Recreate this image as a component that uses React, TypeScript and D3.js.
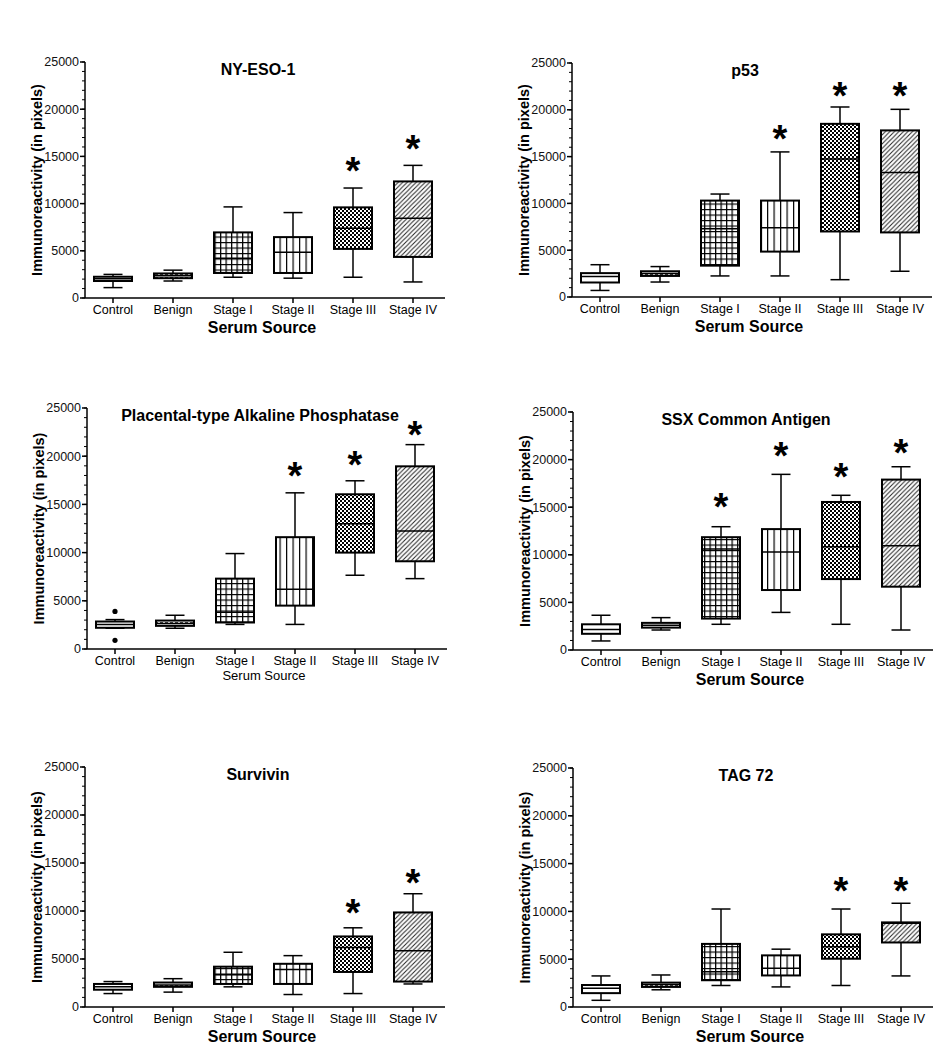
import React from "react";
import * as d3 from "d3";

const CATEGORIES = ["Control", "Benign", "Stage I", "Stage II", "Stage III", "Stage IV"];
const Y_TICKS = [0, 5000, 10000, 15000, 20000, 25000];
const Y_LABEL = "Immunoreactivity (in pixels)";
const X_LABEL = "Serum Source";

type Box = [number, number, number, number, number]; // min, q1, median, q3, max

const NY_ESO_1: Box[] = [
  [1100, 1800, 2050, 2250, 2500],
  [1800, 2100, 2350, 2600, 2950],
  [2200, 2650, 4200, 6950, 9650],
  [2100, 2650, 4850, 6450, 9050],
  [2200, 5200, 7400, 9600, 11650],
  [1700, 4350, 8450, 12350, 14050],
];
const NY_ESO_1_STARS = [null, null, null, null, 14100, 16400];

const P53: Box[] = [
  [700, 1550, 2200, 2550, 3450],
  [1600, 2250, 2500, 2750, 3250],
  [2250, 3350, 7300, 10300, 11000],
  [2250, 4850, 7400, 10300, 15500],
  [1850, 7000, 14750, 18500, 20300],
  [2750, 6900, 13300, 17800, 20050],
];
const P53_STARS = [null, null, null, 17500, 22150, 22150];

const PLAP: Box[] = [
  [2150, 2200, 2550, 2850, 3050],
  [2150, 2400, 2650, 2950, 3500],
  [2550, 2750, 3800, 7300, 9900],
  [2550, 4500, 6200, 11600, 16200],
  [7650, 10000, 13000, 16050, 17450],
  [7300, 9100, 12250, 18950, 21200],
];
const PLAP_STARS = [null, null, null, 18550, 19750, 22850];
const PLAP_OUTLIERS: [number, number][] = [[0, 3900], [0, 900]];

const SSX: Box[] = [
  [950, 1700, 2150, 2700, 3650],
  [2100, 2350, 2600, 2850, 3400],
  [2700, 3300, 10600, 11850, 12950],
  [3950, 6300, 10300, 12700, 18450],
  [2700, 7450, 10850, 15550, 16250],
  [2100, 6650, 10950, 17900, 19250],
];
const SSX_STARS = [null, null, 15600, 21000, 18800, 21350];

const SURVIVIN: Box[] = [
  [1400, 1800, 2100, 2400, 2650],
  [1550, 2100, 2300, 2550, 2950],
  [2100, 2400, 3350, 4200, 5700],
  [1300, 2400, 3900, 4500, 5350],
  [1400, 3650, 6200, 7350, 8250],
  [2400, 2650, 5850, 9850, 11800],
];
const SURVIVIN_STARS = [null, null, null, null, 10450, 13500];

const TAG72: Box[] = [
  [700, 1450, 1950, 2300, 3250],
  [1800, 2100, 2350, 2550, 3350],
  [2250, 2800, 3700, 6600, 10250],
  [2100, 3300, 4050, 5400, 6050],
  [2250, 5050, 6300, 7600, 10250],
  [3250, 6750, 8750, 8850, 10850],
];
const TAG72_STARS = [null, null, null, null, 12750, 12750];

const PANELS = [
  { title: "NY-ESO-1", boxes: NY_ESO_1, stars: NY_ESO_1_STARS, outliers: [] as [number, number][], boldX: true },
  { title: "p53", boxes: P53, stars: P53_STARS, outliers: [] as [number, number][], boldX: true },
  { title: "Placental-type Alkaline Phosphatase", boxes: PLAP, stars: PLAP_STARS, outliers: PLAP_OUTLIERS, boldX: false },
  { title: "SSX Common Antigen", boxes: SSX, stars: SSX_STARS, outliers: [] as [number, number][], boldX: true },
  { title: "Survivin", boxes: SURVIVIN, stars: SURVIVIN_STARS, outliers: [] as [number, number][], boldX: true },
  { title: "TAG 72", boxes: TAG72, stars: TAG72_STARS, outliers: [] as [number, number][], boldX: true },
];

const LAYOUT = [
  { ax: 85, y0: 298, yTop: 62 },
  { ax: 572, y0: 297, yTop: 63 },
  { ax: 87, y0: 649, yTop: 408 },
  { ax: 573, y0: 650, yTop: 412 },
  { ax: 85, y0: 1007, yTop: 767 },
  { ax: 573, y0: 1007, yTop: 768 },
];

const FILLS = ["#fff", "url(#pBenign)", "url(#pGrid)", "url(#pVert)", "url(#pChecker)", "url(#pDiag)"];
const FONT = "'Liberation Sans', Arial, Helvetica, sans-serif";

function Panel({ p, l }: { p: (typeof PANELS)[number]; l: (typeof LAYOUT)[number] }) {
  const width = 360;
  const x = d3.scaleBand().domain(CATEGORIES).range([l.ax, l.ax + width]);
  const y = d3.scaleLinear().domain([0, 25000]).range([l.y0, l.yTop]);
  const bw = 38;
  const cap = 19;
  const cx = (c: string) => (x(c) as number) + x.bandwidth() / 2 - 2;
  const minor = y.ticks(25);
  const midY = (l.y0 + l.yTop) / 2;
  return (
    <g>
      <text x={l.ax + 173} y={l.yTop + 13} textAnchor="middle" fontFamily={FONT} fontWeight="bold" fontSize={16}>
        {p.title}
      </text>
      <line x1={l.ax} x2={l.ax} y1={l.y0} y2={l.yTop} stroke="#000" strokeWidth={1.5} />
      {minor.map((t) => (
        <line key={"m" + t} x1={l.ax - 3} x2={l.ax} y1={y(t)} y2={y(t)} stroke="#000" strokeWidth={1} />
      ))}
      {Y_TICKS.map((t) => (
        <g key={"t" + t}>
          <line x1={l.ax - 5} x2={l.ax} y1={y(t)} y2={y(t)} stroke="#000" strokeWidth={1.5} />
          <text x={l.ax - 6} y={y(t)} dy="0.35em" textAnchor="end" fontFamily={FONT} fontSize={12.5} fill="#111">
            {t}
          </text>
        </g>
      ))}
      <text
        transform={`translate(${l.ax - 48},${midY}) rotate(-90)`}
        textAnchor="middle"
        dy="0.35em"
        fontFamily={FONT}
        fontWeight="bold"
        fontSize={14.5}
      >
        {Y_LABEL}
      </text>
      <line x1={l.ax} x2={l.ax + width} y1={l.y0} y2={l.y0} stroke="#000" strokeWidth={1.5} />
      {CATEGORIES.map((c) => (
        <g key={"x" + c}>
          <line x1={cx(c)} x2={cx(c)} y1={l.y0} y2={l.y0 + 5} stroke="#000" strokeWidth={1.5} />
          <text x={cx(c)} y={l.y0 + 16} textAnchor="middle" fontFamily={FONT} fontSize={12.5}>
            {c}
          </text>
        </g>
      ))}
      <text
        x={l.ax + 177}
        y={l.y0 + (p.boldX ? 35 : 31)}
        textAnchor="middle"
        fontFamily={FONT}
        fontWeight={p.boldX ? "bold" : "normal"}
        fontSize={p.boldX ? 16 : 13}
      >
        {X_LABEL}
      </text>
      {p.boxes.map((b, i) => {
        const c = CATEGORIES[i];
        const xc = cx(c);
        const [mn, q1, md, q3, mx] = b;
        return (
          <g key={"b" + i}>
            <line x1={xc} x2={xc} y1={y(mx)} y2={y(q3)} stroke="#000" strokeWidth={1.5} />
            <line x1={xc} x2={xc} y1={y(q1)} y2={y(mn)} stroke="#000" strokeWidth={1.5} />
            <line x1={xc - cap / 2} x2={xc + cap / 2} y1={y(mx)} y2={y(mx)} stroke="#000" strokeWidth={1.5} />
            <line x1={xc - cap / 2} x2={xc + cap / 2} y1={y(mn)} y2={y(mn)} stroke="#000" strokeWidth={1.5} />
            <rect x={xc - bw / 2} y={y(q3)} width={bw} height={y(q1) - y(q3)} fill={FILLS[i]} stroke="#000" strokeWidth={2} />
            <line x1={xc - bw / 2} x2={xc + bw / 2} y1={y(md)} y2={y(md)} stroke="#000" strokeWidth={1.5} />
          </g>
        );
      })}
      {p.outliers.map(([i, v], k) => (
        <circle key={"o" + k} cx={cx(CATEGORIES[i])} cy={y(v)} r={2.6} fill="#000" />
      ))}
      {p.stars.map((s, i) =>
        s == null ? null : (
          <text
            key={"s" + i}
            x={cx(CATEGORIES[i])}
            y={y(s) + 19}
            textAnchor="middle"
            fontFamily={FONT}
            fontWeight="bold"
            fontSize={38}
          >
            *
          </text>
        )
      )}
    </g>
  );
}

export default function App() {
  return (
    <svg
      width={942}
      height={1050}
      viewBox="0 0 942 1050"
      style={{ position: "absolute", left: 0, top: 0, background: "#fff" }}
    >
      <defs>
        <pattern id="pBenign" patternUnits="userSpaceOnUse" width={5} height={3}>
          <rect width={5} height={3} fill="#fff" />
          <line x1={0} x2={3} y1={1.5} y2={1.5} stroke="#444" strokeWidth={1} />
        </pattern>
        <pattern id="pGrid" patternUnits="userSpaceOnUse" width={5.5} height={5.5}>
          <rect width={5.5} height={5.5} fill="#fff" />
          <path d="M0 0.6 H5.5 M0.6 0 V5.5" stroke="#000" strokeWidth={1.3} />
        </pattern>
        <pattern id="pVert" patternUnits="userSpaceOnUse" width={6.5} height={10}>
          <rect width={6.5} height={10} fill="#fff" />
          <path d="M0.6 0 V10" stroke="#000" strokeWidth={1.2} />
        </pattern>
        <pattern id="pChecker" patternUnits="userSpaceOnUse" width={4} height={4}>
          <rect width={4} height={4} fill="#fff" />
          <rect x={0} y={0} width={2} height={2} fill="#000" />
          <rect x={2} y={2} width={2} height={2} fill="#000" />
        </pattern>
        <pattern id="pDiag" patternUnits="userSpaceOnUse" width={4.5} height={4.5}>
          <rect width={4.5} height={4.5} fill="#fff" />
          <path d="M0 4.5 L4.5 0 M-1 1 L1 -1 M3.5 5.5 L5.5 3.5" stroke="#222" strokeWidth={1} />
        </pattern>
      </defs>
      <rect width={942} height={1050} fill="#fff" />
      {PANELS.map((p, i) => (
        <Panel key={p.title} p={p} l={LAYOUT[i]} />
      ))}
    </svg>
  );
}
